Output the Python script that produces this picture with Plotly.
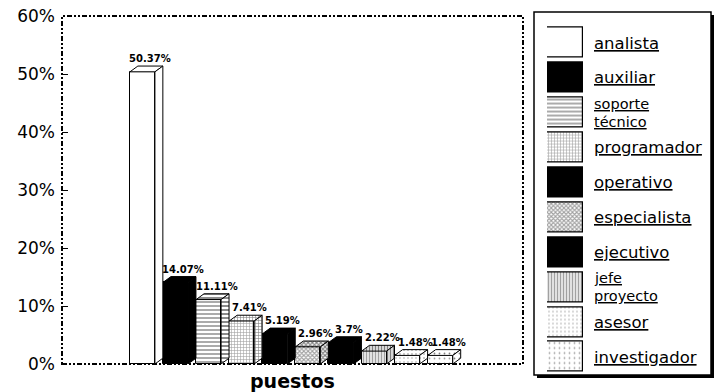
import plotly.graph_objects as go

# Job positions and their share of respondents (%)
puestos = ["analista", "auxiliar", "soporte técnico", "programador", "operativo",
           "especialista", "ejecutivo", "jefe proyecto", "asesor", "investigador"]
porcentajes = [50.37, 14.07, 11.11, 7.41, 5.19, 2.96, 3.7, 2.22, 1.48, 1.48]
y_ticks = [0, 10, 20, 30, 40, 50, 60]
y_tick_text = ["0%", "10%", "20%", "30%", "40%", "50%", "60%"]

# Fill style per position: base colour + hatch pattern (shape, solidity, size)
colores = ["white", "black", "white", "white", "black",
           "white", "black", "white", "white", "white"]
patrones = ["", "", "-", "+", "", "x", "", "|", ".", "."]
solidez = [0.3, 0.3, 0.45, 0.35, 0.3, 0.6, 0.3, 0.55, 0.12, 0.10]
tam_patron = [4, 4, 4, 3, 4, 3, 4, 3, 4, 5]

W, H = 716, 392
def px_x(x):
    return x / W
def px_y(y):
    return 1 - y / H

BAR_W = 0.755      # front face width (category slots)
DX, DY = 0.24, 1.0  # 3-D depth offset in data units

def pattern(i):
    if not patrones[i]:
        return None
    return dict(shape=patrones[i], fgcolor="black", bgcolor="white",
                solidity=solidez[i], size=tam_patron[i])

fig = go.Figure()
xs = list(range(len(puestos)))

# front faces
fig.add_trace(go.Bar(
    x=xs, y=porcentajes, width=BAR_W,
    marker=dict(color=colores, line=dict(color="black", width=1),
                pattern=dict(shape=patrones, fgcolor="black", bgcolor=colores,
                             solidity=solidez, size=tam_patron)),
    hoverinfo="skip", showlegend=False))

# top and side faces for the 3-D look
for i, v in zip(xs, porcentajes):
    l, r = i - BAR_W / 2, i + BAR_W / 2
    faces = [
        ([l, r, r + DX, l + DX, l], [v, v, v + DY, v + DY, v]),
        ([r, r + DX, r + DX, r, r], [0, DY, v + DY, v, 0]),
    ]
    for fx, fy in faces:
        kw = dict(x=fx, y=fy, mode="lines", fill="toself", fillcolor=colores[i],
                  line=dict(color="black", width=1), hoverinfo="skip", showlegend=False)
        p = pattern(i)
        if p:
            kw["fillpattern"] = p
        fig.add_trace(go.Scatter(**kw))

# value labels above each bar
for i, v in zip(xs, porcentajes):
    fig.add_annotation(x=i + DX, y=v + DY, text=f"<b>{v:g}%</b>", showarrow=False,
                       xanchor="center", yanchor="bottom", yshift=0,
                       font=dict(family="DejaVu Sans", size=10, color="black"))

# legend swatches drawn in their own small subplot
fig.add_trace(go.Bar(
    x=[1] * len(puestos), y=xs, orientation="h", width=0.86,
    xaxis="x2", yaxis="y2",
    marker=dict(color=colores, line=dict(color="black", width=1.2),
                pattern=dict(shape=patrones, fgcolor="black", bgcolor=colores,
                             solidity=solidez, size=tam_patron)),
    hoverinfo="skip", showlegend=False))

for i, name in enumerate(puestos):
    lines = name.split(" ")
    shifts = [0] if len(lines) == 1 else [9, -9]
    size = 16.5 if len(lines) == 1 else 14.5
    for txt, sh in zip(lines, shifts):
        fig.add_annotation(x=px_x(592), xref="paper", y=i, yref="y2",
                           text=f"<u>{txt}</u>", showarrow=False,
                           xanchor="left", yanchor="middle", yshift=sh,
                           font=dict(family="DejaVu Sans", size=size, color="black"))

fig.add_annotation(x=0.5, xref="x domain", y=px_y(381), yref="paper",
                   text="<b>puestos</b>", showarrow=False,
                   xanchor="center", yanchor="middle",
                   font=dict(family="DejaVu Sans", size=19, color="black"))

shapes = [
    # dash-dot frame around the plot area
    dict(type="rect", xref="x domain", yref="y domain", x0=0, x1=1, y0=0, y1=1,
         line=dict(color="black", width=2, dash="5px,2px,2px,2px,2px,2px"), layer="above"),
    # legend box with drop shadow
    dict(type="rect", xref="paper", yref="paper",
         x0=px_x(537), x1=px_x(714), y0=px_y(378), y1=px_y(15),
         fillcolor="black", line=dict(width=0), layer="below"),
    dict(type="rect", xref="paper", yref="paper",
         x0=px_x(534), x1=px_x(711), y0=px_y(375), y1=px_y(12),
         fillcolor="white", line=dict(color="black", width=1.5), layer="below"),
]

fig.update_layout(
    width=W, height=H,
    margin=dict(l=0, r=0, t=0, b=0, autoexpand=False),
    paper_bgcolor="white", plot_bgcolor="rgba(0,0,0,0)",
    shapes=shapes,
    bargap=0,
    xaxis=dict(domain=[px_x(62), px_x(523)], range=[-2.43, 11.5],
               showticklabels=False, ticks="", showgrid=False, zeroline=False,
               showline=False, fixedrange=True, automargin=False),
    yaxis=dict(domain=[px_y(364), px_y(16)], range=[0, 60],
               tickmode="array", tickvals=y_ticks, ticktext=y_tick_text,
               ticks="inside", ticklen=6,
               tickcolor="black", tickwidth=1, ticklabelstandoff=6,
               showgrid=False, zeroline=False, showline=False, automargin=False,
               tickfont=dict(family="DejaVu Sans", size=17, color="black")),
    xaxis2=dict(domain=[px_x(547), px_x(583)], range=[0, 1], visible=False,
                anchor="y2", automargin=False),
    yaxis2=dict(domain=[px_y(374.45), px_y(25.55)], range=[9.5, -0.5],
                visible=False, anchor="x2", automargin=False),
)

fig.write_html("out.html")
